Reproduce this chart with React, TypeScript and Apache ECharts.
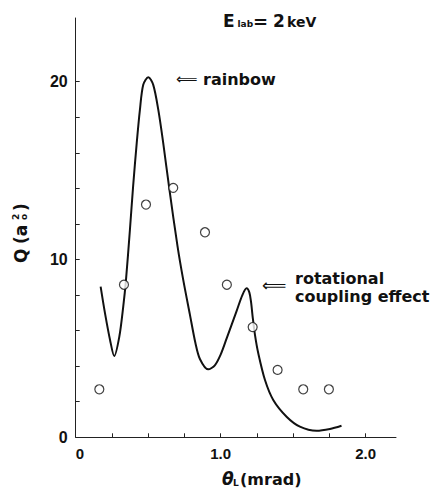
import React, { useEffect, useRef } from "react";
import * as echarts from "echarts";

// Calculated cross-section curve Q(θL)
const curveTheta = [
  0.172, 0.202, 0.237, 0.266, 0.301, 0.328, 0.347, 0.374, 0.396, 0.421, 0.443,
  0.466, 0.501, 0.535, 0.57, 0.604, 0.647, 0.703, 0.742, 0.788, 0.826, 0.857,
  0.914, 0.96, 1.0, 1.041, 1.11, 1.15, 1.179, 1.198, 1.21, 1.222, 1.238, 1.259,
  1.306, 1.363, 1.455, 1.547, 1.662, 1.754, 1.834,
];
const curveQ = [
  8.47, 6.98, 5.47, 4.57, 5.66, 7.35, 8.85, 11.66, 14.1, 16.54, 18.41, 19.82,
  20.25, 19.82, 18.41, 16.54, 13.91, 10.72, 8.85, 6.9, 5.3, 4.4, 3.82, 4.05,
  4.65, 5.55, 7.1, 8.0, 8.38, 8.15, 7.6, 6.7, 5.7, 4.75, 3.22, 2.1, 1.16, 0.6,
  0.37, 0.47, 0.65,
];

// Measured points
const measTheta = [0.163, 0.333, 0.485, 0.673, 0.892, 1.043, 1.221, 1.393, 1.57, 1.747];
const measQ = [2.7, 8.58, 13.09, 14.03, 11.53, 8.58, 6.2, 3.79, 2.7, 2.7];

// Axis ticks and labels
const xTickValues = [0.25, 0.5, 0.75, 1.0, 1.25, 1.5, 1.75, 2.0];
const xLabelValues = [0, 1, 2];
const xLabelTexts = ["0", "1.0", "2.0"];
const yTickValues = [2, 4, 6, 8, 10, 12, 14, 16, 18, 20];
const yLabelValues = [0, 10, 20];
const yLabelTexts = ["0", "10", "20"];

const BOLD = "DejaVu Sans";

export default function App() {
  const ref = useRef<HTMLDivElement>(null);

  useEffect(() => {
    if (!ref.current) return;
    const chart = echarts.init(ref.current, null, { renderer: "svg" });

    const labelFor = (vals: number[], texts: string[]) => (v: number) => {
      const i = vals.findIndex((t) => Math.abs(t - v) < 1e-6);
      return i >= 0 ? texts[i] : "";
    };

    const txt = (
      x: number,
      y: number,
      text: string,
      fontSize: number,
      extra: Record<string, unknown> = {}
    ) => ({
      type: "text",
      x,
      y,
      style: {
        text,
        fontFamily: BOLD,
        fontWeight: "bold",
        fontSize,
        fill: "#111",
        align: "left",
        verticalAlign: "middle",
        ...extra,
      },
    });

    chart.setOption({
      animation: false,
      backgroundColor: "#fff",
      grid: { left: 75.7, right: 42, top: 18, bottom: 51.7 },
      xAxis: {
        type: "value",
        min: 0,
        max: 2.21,
        splitLine: { show: false },
        axisLine: { show: true, lineStyle: { color: "#222", width: 1 } },
        axisTick: {
          show: true,
          inside: true,
          length: 4,
          customValues: xTickValues,
          lineStyle: { color: "#222" },
        },
        axisLabel: {
          customValues: xLabelValues,
          formatter: labelFor(xLabelValues, xLabelTexts),
          fontFamily: "Liberation Sans",
          fontWeight: "bold",
          fontSize: 15,
          color: "#111",
          margin: 9,
          alignMinLabel: "left",
        },
      },
      yAxis: {
        type: "value",
        min: 0,
        max: 23.58,
        splitLine: { show: false },
        axisLine: { show: true, lineStyle: { color: "#222", width: 1 } },
        axisTick: {
          show: true,
          inside: true,
          length: 4,
          customValues: yTickValues,
          lineStyle: { color: "#222" },
        },
        axisLabel: {
          customValues: yLabelValues,
          formatter: labelFor(yLabelValues, yLabelTexts),
          fontFamily: "Liberation Sans",
          fontWeight: "bold",
          fontSize: 16,
          color: "#111",
          margin: 8,
        },
      },
      series: [
        {
          type: "line",
          data: curveTheta.map((t, i) => [t, curveQ[i]]),
          showSymbol: false,
          smooth: 0.3,
          lineStyle: { color: "#111", width: 2 },
          z: 2,
        },
        {
          type: "scatter",
          data: measTheta.map((t, i) => [t, measQ[i]]),
          symbol: "circle",
          symbolSize: 9,
          itemStyle: { color: "#fff", borderColor: "#111", borderWidth: 1.2 },
          z: 3,
        },
      ],
      graphic: [
        // E_lab = 2 keV
        txt(223, 21.2, "E", 17),
        txt(237.5, 23.8, "lab", 9),
        txt(253, 21.2, "=", 18),
        txt(273, 21.2, "2", 17),
        txt(287, 22, "keV", 14),
        // annotations
        txt(176, 79, "⟸", 15, { fontWeight: "normal" }),
        txt(203, 79, "rainbow", 16),
        txt(262, 285, "⟸", 17, { fontWeight: "normal" }),
        txt(295, 278, "rotational", 16),
        txt(295, 296, "coupling effect", 16),
        // x-axis name θL(mrad)
        txt(222, 479, "θ", 17, { fontStyle: "italic" }),
        txt(233, 483, "L", 9),
        txt(240, 479, "(mrad)", 16),
        // y-axis name Q (a0^2), read bottom to top
        {
          type: "group",
          x: 21,
          y: 263,
          rotation: Math.PI / 2,
          children: [
            txt(0, 0, "Q", 17),
            txt(19, 0, "(a", 17),
            txt(43, -5, "2", 9),
            txt(43, 3, "o", 9),
            txt(52, 0, ")", 17),
          ],
        },
      ],
    });

    return () => chart.dispose();
  }, []);

  return (
    <div
      ref={ref}
      style={{ position: "absolute", left: 0, top: 0, width: 438, height: 489 }}
    />
  );
}
